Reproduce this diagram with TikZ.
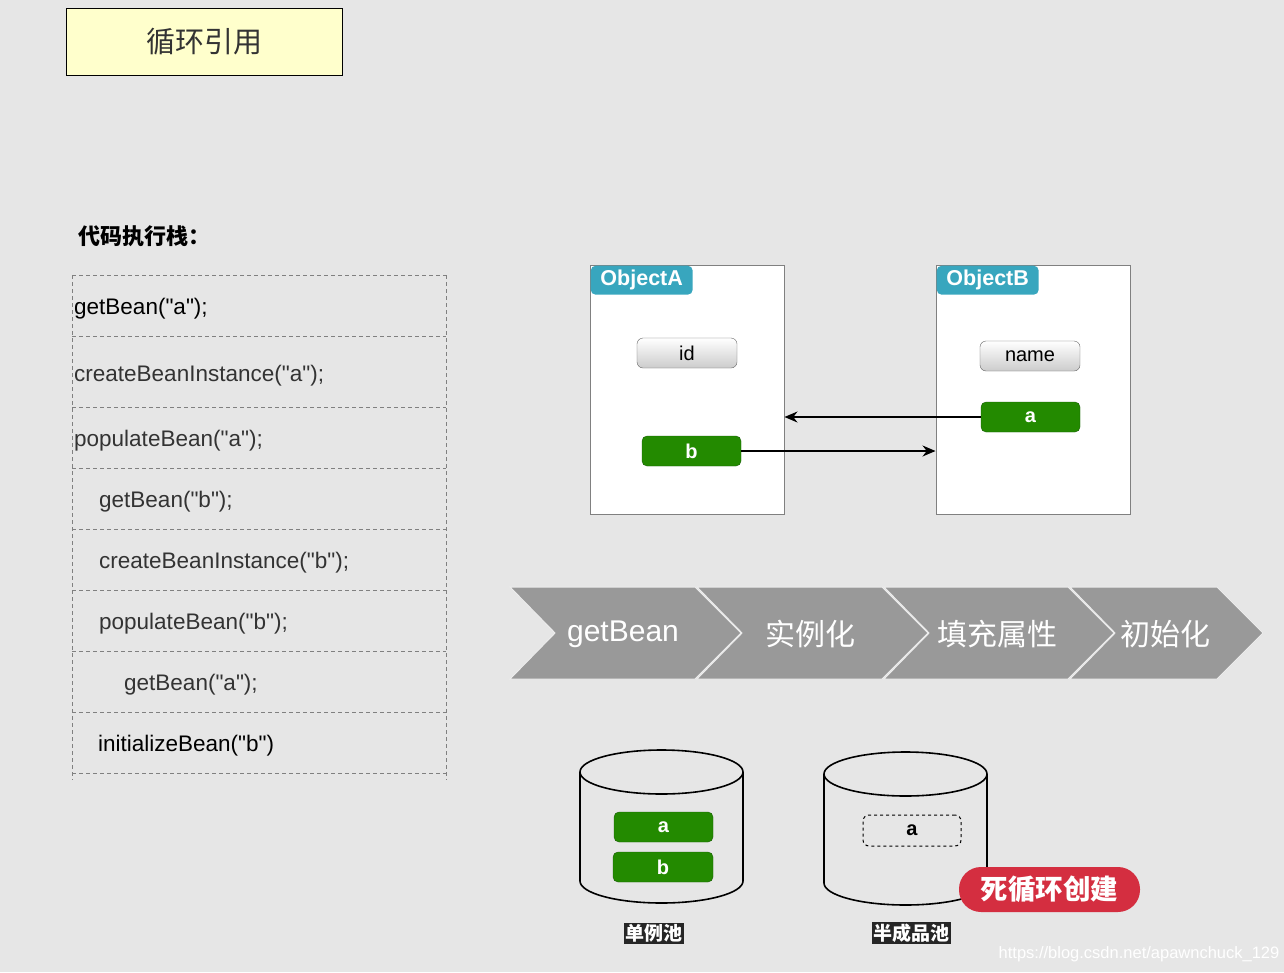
\documentclass[tikz,border=0pt]{standalone}
\usepackage{fontspec}
\setmainfont{Liberation Sans}
\newfontfamily\cjk{Noto Sans CJK SC}
\usetikzlibrary{arrows.meta,positioning,shapes,calc}

\definecolor{bggray}{HTML}{E6E6E6}
\definecolor{titleyellow}{HTML}{FFFFCC}
\definecolor{tabteal}{HTML}{38A6BE}
\definecolor{beangreen}{HTML}{238A00}
\definecolor{beanborder}{HTML}{1B5E08}
\definecolor{chevgray}{HTML}{999999}
\definecolor{warnred}{HTML}{D42E40}
\definecolor{codegray}{HTML}{333333}

\newcommand{\fs}[1]{\fontsize{#1}{#1}\selectfont}
\newcommand{\qt}[1]{\textquotedbl#1\textquotedbl}

\begin{document}
\begin{tikzpicture}[x=1pt, y=-1pt, font=\fs{22.5},
  objbox/.style={draw=gray, fill=white, line width=1pt, minimum width=194pt, minimum height=249pt},
  objtab/.style={fill=tabteal, rounded corners=5pt, anchor=north west, minimum width=102pt, minimum height=29pt, text=white, font=\bfseries\fs{21.5}},
  field/.style={draw=gray!80!black, rounded corners=6pt, top color=white, bottom color=gray!40, minimum width=100pt, minimum height=30pt, font=\fs{20}},
  bean/.style={draw=beanborder, fill=beangreen, rounded corners=5pt, minimum width=99pt, minimum height=30pt, text=white, font=\bfseries\fs{20}},
  poollbl/.style={fill=black!85, text=white, inner sep=1.5pt, font=\cjk\bfseries\fs{19}},
  codeline/.style={anchor=west, inner sep=0pt}]

  % background
  \fill[bggray] (0,0) rectangle (1284,972);
  \useasboundingbox (0,0) rectangle (1284,972);

  % title
  \node[draw, line width=1pt, fill=titleyellow, minimum width=276pt, minimum height=67pt, text=codegray, font=\cjk\fs{29}] (title) at (204,41.5) {循环引用};

  % code stack
  \node[anchor=west, inner sep=0pt, font=\cjk\bfseries\fs{22}] (stacklbl) at (78,236) {代码执行栈：};
  \foreach \y in {275,336,407,468,529,590,651,712,773}
    \draw[gray, dash pattern=on 4pt off 3pt] (72,\y) -- (446,\y);
  \draw[gray, dash pattern=on 4pt off 3pt] (72,275) -- (72,780);
  \draw[gray, dash pattern=on 4pt off 3pt] (446,275) -- (446,780);
  \node[codeline] (row1) at (74,309) {getBean(\qt{a});};
  \node[codeline, text=codegray] (row2) at (74,376) {createBeanInstance(\qt{a});};
  \node[codeline, text=codegray] (row3) at (74,441) {populateBean(\qt{a});};
  \node[codeline, text=codegray] (row4) at (99,502) {getBean(\qt{b});};
  \node[codeline, text=codegray] (row5) at (99,563) {createBeanInstance(\qt{b});};
  \node[codeline, text=codegray] (row6) at (99,624) {populateBean(\qt{b});};
  \node[codeline, text=codegray] (row7) at (124,685) {getBean(\qt{a});};
  \node[codeline] (row8) at (98,746) {initializeBean(\qt{b})};

  % objects
  \node[objbox] (objA) at (687,389.5) {};
  \node[objtab] (tabA) at ([shift={(1,1)}]objA.north west) {ObjectA};
  \node[field] (idA) at (687,353) {id};
  \node[bean] (bA) at (691.5,451) {b};

  \node[objbox] (objB) at (1033,389.5) {};
  \node[objtab] (tabB) at ([shift={(1,1)}]objB.north west) {ObjectB};
  \node[field] (nameB) at (1030,356) {name};
  \node[bean] (aB) at (1030.5,417) {a};

  \draw[-{Stealth[length=13pt,width=11pt]}, line width=1.3pt] (aB.west) -- (aB.west -| objA.east);
  \draw[-{Stealth[length=13pt,width=11pt]}, line width=1.3pt] (bA.east) -- (bA.east -| objB.west);

  % lifecycle chevrons
  \foreach \x/\w/\c/\lbl [count=\i] in {510/185/623/getBean, 697/185/810/{\cjk 实例化}, 884/184/997/{\cjk 填充属性}, 1070/147/1165/{\cjk 初始化}} {
    \filldraw[fill=chevgray, draw=white!85!gray, line width=1pt]
      (\x,587) -- ++(\w,0) -- ++(46,46) -- ++(-46,46) -- ++(-\w,0) -- ++(45,-46) -- cycle;
    \node[text=white, font=\fs{30}] (step\i) at (\c,634) {\lbl};
  }

  % pools
  \draw[line width=1.6pt] (580,772) -- (580,881) arc[start angle=180, end angle=0, x radius=81.5, y radius=22] -- (743,772);
  \draw[line width=1.6pt] (661.5,772) ellipse[x radius=81.5, y radius=22];
  \node[bean] (poolA) at (663.5,827) {a};
  \node[bean, minimum width=100pt] (poolB) at (663,867) {b};
  \node[poollbl] (singleton) at (654,933) {单例池};

  \draw[line width=1.6pt] (824,774) -- (824,883) arc[start angle=180, end angle=0, x radius=81.5, y radius=22] -- (987,774);
  \draw[line width=1.6pt] (905.5,774) ellipse[x radius=81.5, y radius=22];
  \node[draw, dashed, line width=1pt, rounded corners=6pt, minimum width=98pt, minimum height=31pt, font=\bfseries\fs{20}] (earlyA) at (912,830.5) {a};
  \node[poollbl] (early) at (911,933) {半成品池};

  \node[fill=warnred, rounded corners=22pt, minimum width=181pt, minimum height=45pt, text=white, font=\cjk\bfseries\fs{27.5}] (loop) at (1049.5,889.5) {死循环创建};

  % watermark
  \node[text=white, font=\fs{16.5}, inner sep=0pt] (mark) at (1139,954) {https://blog.csdn.net/apawnchuck\_129};
\end{tikzpicture}
\end{document}
